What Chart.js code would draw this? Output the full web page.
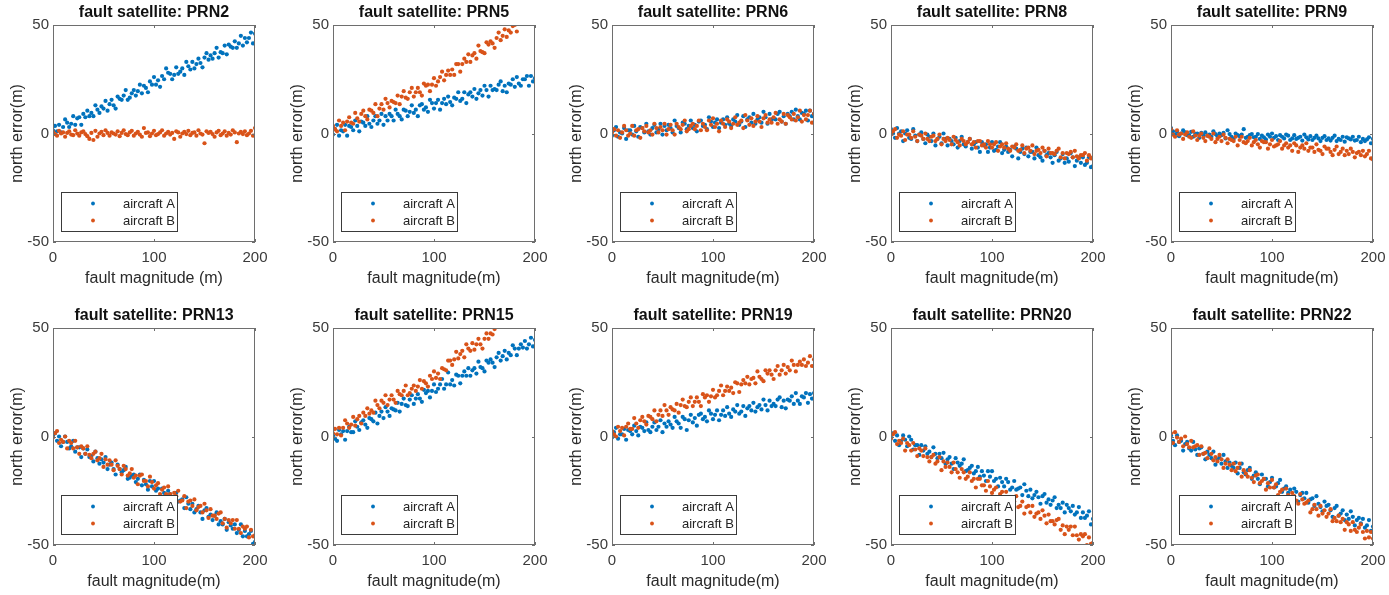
<!DOCTYPE html>
<html>
<head>
<meta charset="utf-8">
<script src="https://cdn.jsdelivr.net/npm/chart.js@4.4.1/dist/chart.umd.min.js"></script>
<style>
  body { margin: 0; background: #fff; width: 1389px; height: 595px; position: relative; overflow: hidden; }
  canvas { position: absolute; }
</style>
</head>
<body>
<script>
// fault magnitude (m), shared x values
const faultMag = [
  0, 2, 4, 6, 8, 10, 12, 14, 16, 18,
  20, 22, 24, 26, 28, 30, 32, 34, 36, 38,
  40, 42, 44, 46, 48, 50, 52, 54, 56, 58,
  60, 62, 64, 66, 68, 70, 72, 74, 76, 78,
  80, 82, 84, 86, 88, 90, 92, 94, 96, 98,
  100, 102, 104, 106, 108, 110, 112, 114, 116, 118,
  120, 122, 124, 126, 128, 130, 132, 134, 136, 138,
  140, 142, 144, 146, 148, 150, 152, 154, 156, 158,
  160, 162, 164, 166, 168, 170, 172, 174, 176, 178,
  180, 182, 184, 186, 188, 190, 192, 194, 196, 198,
  200
];

const xTicks = [0, 100, 200];
const yTicks = [-50, 0, 50];

// north error (m) per fault satellite
const prn2A = [
  1.5, 3.5, 1, 4, 0.5, 3, 6.5, 5, 3, 4.5,
  8, 4, 7, 7.5, 4, 9, 7.5, 10.5, 8, 9.5,
  8, 13, 11, 9.5, 12.5, 11.5, 15, 10.5, 13.5, 15.5,
  13, 11.5, 17, 16, 15.5, 17.5, 20, 15.5, 16.5, 18.5,
  20, 17.5, 19.5, 22.5, 18.5, 22, 21, 19, 24, 22.5,
  26, 22.5, 24.5, 21.5, 26.5, 25, 30, 28, 27.5, 25,
  27, 30.5, 27.5, 28.5, 30, 27, 33, 31, 29.5, 33,
  30, 32, 34.5, 32.5, 30.5, 35, 37, 34, 36, 34.5,
  37, 39.5, 35, 37.5, 37, 40.5, 36.5, 41, 40, 39.5,
  42.5, 39.5, 41.5, 45, 40.5, 44, 42, 44, 46.5, 41.5,
  46
];
const prn2B = [
  0.75, -0.25, -1, 1.25, 0, 0.5, -1.5, 0.25, 1, -0.5,
  -0.75, 1.5, 0, -1, 0.5, 1, -0.25, -1.25, -2.5, 0.25,
  -3, 1.25, -1.5, 0, 0.75, -0.75, 1.5, 0.25, -1, 0.5,
  0, -0.5, 1, -1.25, 0.25, 1.5, -0.25, -0.75, 0.5, 1.25,
  -1, 0, 0.75, -0.5, -1.5, 2.5, 0.25, 0.5, -1.25, 0,
  1.25, -0.75, -0.25, 0.5, 1.5, -1, 0, 0.75, -0.5, 0.25,
  -2.5, 1, 0.5, -1.5, 0, 0.75, -0.25, 1.25, -0.75, 0.25,
  0.5, -1, 1.5, 0, -0.5, -4.5, 1, 0.25, 0.75, -0.25,
  -1.5, 0.5, 1.25, -0.75, 0, 1, -1, 0.25, -0.5, 1.5,
  0.5, -4, 0, 0.75, -0.25, 1, -0.75, 0, 1.25, -1,
  2.5
];
const prn5A = [
  -0.5, 2, 4, -1, 1.5, 1, 4, -1, 3.5, 3,
  1.5, 6, 3.5, 1, 5.5, 5, 3.5, 8, 4.5, 3,
  6, 8, 4.5, 6, 9, 4, 8, 6, 9, 8,
  6, 11, 9, 8, 6.5, 11, 10.5, 8, 10, 13,
  9.5, 11, 8, 13, 13.5, 11, 12, 10, 15.5, 14,
  11.5, 14, 15.5, 11, 14, 16, 13.5, 17, 14.5, 13,
  16.5, 16, 19, 15, 16, 19, 14, 18, 19, 17,
  20.5, 16, 18.5, 20, 17.5, 22, 20, 17, 22, 20,
  20.5, 20, 22.5, 24, 19.5, 22, 19, 23, 22.5, 25,
  21.5, 26, 23, 22, 25, 25, 26.5, 22, 26.5, 24,
  25.5
];
const prn5B = [
  3.5, 2, 1, 6, 3.5, 5, 1.5, 5.5, 7.5, 5,
  4.5, 9.5, 7, 5.5, 9, 10.5, 8, 6.5, 11, 10.5,
  9.5, 13.5, 8, 11.5, 13.5, 11, 16, 14, 12, 15,
  14.5, 14, 17.5, 13.5, 17, 19.5, 16.5, 16, 19, 21,
  17, 19, 21, 19, 17.5, 23, 22, 22.5, 19.5, 22.5,
  25.5, 22, 24, 26, 28.5, 24.5, 27, 29, 27, 29.5,
  27, 32, 32, 28.5, 32, 34.5, 33, 36.5, 33, 36,
  37, 34.5, 40.5, 38, 37.5, 37, 42, 41, 42.5, 41.5,
  39.5, 44, 46.5, 43, 45, 48, 44.5, 47.5, 46.5, 49.5,
  50, 47
];
const prn6A = [
  -1, 1.5, 3, -1.5, 0.5, 0, 2.5, -2.5, 1.5, 1.5,
  -0.5, 3.5, 1, -1.5, 3, 2.5, 0.5, 4.5, 1, -0.5,
  2.5, 4, 0.5, 2, 4.5, -0.5, 3.5, 1.5, 4, 2.5,
  0.5, 6, 3.5, 2.5, 0.5, 5, 4.5, 2, 3.5, 6,
  2.5, 4, 1, 5.5, 6, 3.5, 4, 2, 7.5, 5.5,
  3, 5, 6.5, 2.5, 5, 6.5, 4, 7.5, 4.5, 3.5,
  6.5, 5.5, 8.5, 4, 5.5, 8, 3, 6.5, 7.5, 5,
  9, 4.5, 6.5, 7.5, 5, 10, 7.5, 4.5, 9, 6.5,
  7, 6.5, 9, 10, 5.5, 8, 4.5, 9, 8, 10,
  6.5, 11, 8, 6.5, 9.5, 9, 10.5, 6, 10.5, 8,
  9
];
const prn6B = [
  0.5, 2, -1, 1.5, -2, 0.5, 3.5, 1.5, -1, 0,
  3.5, -1, 1.5, 2, -2, 2.5, 1, 3.5, 0.5, 1.5,
  -0.5, 4.5, 2.5, 0.5, 3, 1.5, 4.5, -0.5, 2, 4,
  1.5, -0.5, 4.5, 3, 2, 4, 6, 1, 2, 3.5,
  4.5, 2, 3.5, 6, 1.5, 4.5, 3, 1.5, 6, 4,
  7, 3, 4.5, 1, 6, 4.5, 3, 6.5, 5.5, 2.5,
  4.5, 7.5, 4, 5, 6, 2.5, 8.5, 6, 4, 7,
  3.5, 5.5, 8, 5.5, 3, 7, 8.5, 5, 6.5, 5,
  7.5, 9.5, 4.5, 6.5, 5.5, 9, 4.5, 8.5, 7.5, 6.5,
  9, 6, 7.5, 10.5, 5.5, 8.5, 6.5, 8.5, 10.5, 5,
  9
];
const prn8A = [
  2, 0, -2, 2.5, 0, 1, -3.5, 0, 1.5, -2,
  -2.5, 2, -1, -3.5, -0.5, 0.5, -2.5, -4.5, -0.5, -1.5,
  -3.5, 0, -5.5, -2.5, -1.5, -4.5, 0, -2.5, -5.5, -2.5,
  -3.5, -5, -2, -6.5, -3.5, -1.5, -5, -6, -4, -2.5,
  -7, -5, -4, -6.5, -8.5, -4, -5.5, -5, -8.5, -6.5,
  -4, -8, -7.5, -6, -4, -9, -7.5, -6, -8.5, -7.5,
  -10.5, -6, -7, -11.5, -8.5, -7, -9.5, -6.5, -10.5, -8.5,
  -8.5, -11.5, -6.5, -10, -11, -12.5, -8, -10, -9, -11,
  -13.5, -10, -8.5, -12.5, -11.5, -9.5, -13.5, -11.5, -13, -9,
  -11, -15, -12.5, -11, -13.5, -11, -14.5, -13.5, -11, -15.5,
  -15
];
const prn8B = [
  -0.5, 1, 2, -2, -0.5, -1, 1, -3, -0.5, -0.5,
  -2, 1, -1.5, -3.5, -0.5, -1, -2.5, 0, -2.5, -3.5,
  -1.5, -1, -3.5, -2.5, -0.5, -5, -2.5, -3.5, -2, -3,
  -5, -1.5, -3, -4, -5.5, -2.5, -3.5, -5, -4, -2.5,
  -5, -4, -6.5, -3.5, -3.5, -5.5, -5, -6.5, -3.5, -5,
  -6.5, -5, -4, -8, -6, -5, -6.5, -4.5, -7, -8,
  -6, -6.5, -5, -8, -7.5, -5.5, -9, -7, -6.5, -8,
  -5.5, -9.5, -8, -7.5, -9, -6.5, -8, -10.5, -7, -9,
  -9, -9.5, -8, -7, -11, -9, -11.5, -9, -9.5, -8.5,
  -11, -8, -10.5, -11.5, -10, -10, -9, -12.5, -10, -11.5,
  -11
];
const prn9A = [
  2.5, 1, -0.5, 0.75, -1.25, 0, 1.5, 0.5, -0.75, -0.75,
  0.75, -1.5, -0.25, 0, -2, 0.25, -0.75, 0.5, -1, -0.5,
  -1.5, 1, -0.25, -1.25, 0, -0.75, 0.25, -2.25, 1.5, -0.25,
  -1.5, -2.5, 0, -0.75, -1.25, -0.5, 2, -2, -1.5, -0.75,
  -0.25, -1.75, -1.5, -0.25, -2.5, -1, -1.75, -2.75, -0.5, -1.5,
  0, -2, -1.25, -3, -0.75, -1.5, -2.25, -0.5, -1, -3,
  -2.25, -0.75, -2.5, -2, -1.5, -3.25, -0.5, -1.75, -2.75, -1.25,
  -3, -2, -1, -2.25, -3.5, -2, -1.25, -3, -2.25, -3.25,
  -2, -1, -3.5, -2.5, -3, -1.5, -3.75, -1.75, -2.25, -2.75,
  -1.5, -3.25, -3, -1.5, -4, -2.5, -3.5, -2.75, -1.75, -4.5,
  -2.5
];
const prn9B = [
  2, -0.5, -1.5, 1.5, -0.5, 0, -2.5, -0.5, 0.5, -1.5,
  -2, 1, -1, -3, -1, 0, -2, -3.5, -1, -1.5,
  -2.5, 0, -4, -2.5, -1.5, -3.5, -0.5, -2, -4.5, -2.5,
  -3, -3.5, -1.5, -5.5, -3, -1.5, -4, -4.5, -3.5, -2,
  -5.5, -4, -3, -5, -6.5, -3.5, -4, -4, -7, -5,
  -3, -6, -5.5, -5, -3.5, -7, -5.5, -4.5, -6.5, -5.5,
  -8, -4.5, -5.5, -8.5, -6.5, -5.5, -7, -4.5, -8, -6.5,
  -6.5, -8.5, -5, -7.5, -8, -9.5, -6, -7, -7, -8.5,
  -10, -7.5, -6, -9.5, -8.5, -7, -10, -8, -9.5, -7,
  -8.5, -11, -9, -8.5, -10, -8, -10.5, -9.5, -8, -11.5,
  -12
];
const prn13A = [
  0.5, 1.5, -2, 0, -4.5, -2.5, 0, -2.5, -5.5, -4.5,
  -2, -7, -5, -5, -9.5, -5.5, -8, -6, -9.5, -9,
  -11.5, -7, -10, -12.5, -10.5, -12, -9.5, -15, -13, -12,
  -15, -17.5, -13, -15, -16.5, -15.5, -14, -19.5, -19, -18,
  -17.5, -21, -19.5, -17.5, -22.5, -20, -22, -24.5, -20.5, -23,
  -20.5, -25, -24, -28, -24, -26, -28, -25, -26.5, -29.5,
  -28.5, -26, -30, -29.5, -29, -33, -28, -31, -33.5, -31,
  -35, -33.5, -32, -35, -38, -34, -33, -37, -36, -38.5,
  -36.5, -35, -40.5, -39, -40.5, -38, -43, -39.5, -41, -42.5,
  -40.5, -44.5, -43, -40.5, -46, -43.5, -46, -45, -43.5, -49.5,
  -48.5
];
const prn13B = [
  -0.5, 1.5, 2.5, -3, -1.5, -2.5, 0, -5.5, -2, -3,
  -5.5, -2, -5, -8, -4.5, -5.5, -8, -4.5, -8.5, -10,
  -8, -7, -11, -10, -8, -14, -10.5, -13, -11, -13,
  -15.5, -11, -13.5, -15, -17.5, -13.5, -15, -18, -17, -15,
  -19, -18, -22, -18, -17.5, -20.5, -20.5, -23, -18.5, -21,
  -24, -22.5, -21.5, -26.5, -24.5, -23.5, -26.5, -23, -26.5, -28.5,
  -26, -27.5, -25, -30, -29.5, -27.5, -33, -30, -29.5, -32,
  -29, -34, -32.5, -32, -35, -31, -34, -37.5, -33.5, -36.5,
  -36.5, -38, -35.5, -35, -40, -38, -42, -38.5, -40, -38.5,
  -42.5, -38.5, -42.5, -44.5, -41.5, -42.5, -41.5, -46.5, -43, -46,
  -45.5
];
const prn15A = [
  0.5, -1, -2, 3, 1, 2.5, -1.5, 2.5, 4.5, 2,
  2, 7, 4.5, 3, 6.5, 7.5, 5.5, 4, 8.5, 8,
  7, 11, 6, 9.5, 11.5, 8.5, 13.5, 11.5, 9.5, 13,
  12.5, 12, 15.5, 11.5, 15, 17.5, 14.5, 14, 17, 19,
  15, 17.5, 19.5, 17.5, 16, 21.5, 20, 21, 18, 21,
  24, 20.5, 22, 24, 26.5, 22, 24, 29.5, 24, 26,
  23.5, 28.5, 28, 24.5, 28, 30, 28, 31.5, 28, 30.5,
  31.5, 29, 34.5, 32, 31.5, 30, 35, 34, 35.5, 34,
  32, 36.5, 38.5, 35, 37, 39.5, 35.5, 38.5, 37.5, 42,
  40.5, 37.5, 40.5, 42.5, 41, 44, 40.5, 42.5, 45.5, 41.5,
  44.5
];
const prn15B = [
  1.5, 3.5, 1, 4, 0.5, 4, 7.5, 6, 4, 5.5,
  9, 5, 8, 9.5, 6, 11, 9.5, 13, 10.5, 12,
  11, 16.5, 14.5, 13, 16.5, 15.5, 19, 14.5, 17, 19,
  17, 15.5, 21, 19.5, 19, 21, 23.5, 19, 20, 22,
  23.5, 21, 23, 26, 22, 25.5, 24.5, 23, 28, 26.5,
  30, 27, 29, 26.5, 31.5, 31, 30.5, 35, 35, 33,
  35.5, 39, 36, 38, 39.5, 36.5, 42.5, 40.5, 39.5, 43,
  40, 42.5, 45, 42.5, 40.5, 45, 47.5, 45, 47.5, 47,
  49.5
];
const prn19A = [
  -0.5, 2, 4, -1, 1, 1, 3.5, -1.5, 3, 2.5,
  1, 5, 2.5, 0.5, 4.5, 4, 2.5, 6.5, 3, 2,
  4.5, 6.5, 3, 4.5, 7.5, 2, 6, 4.5, 7, 5.5,
  4, 9, 7, 6, 4, 9, 8, 3, 7.5, 10,
  6.5, 8.5, 5, 10, 10.5, 8, 9, 7, 12, 10.5,
  8, 10, 12, 7.5, 10, 12, 9.5, 13.5, 10.5, 9,
  12.5, 11.5, 14.5, 10.5, 11.5, 14, 9.5, 13, 14, 12,
  15.5, 11.5, 13.5, 14.5, 12.5, 17, 14.5, 12, 16.5, 14,
  15, 14, 17, 18, 13.5, 16.5, 13, 17, 16.5, 18.5,
  15, 20, 16.5, 15, 18.5, 18, 20, 15.5, 19.5, 17.5,
  20
];
const prn19B = [
  2.5, 1, 0, 4.5, 2.5, 4, 0.5, 4.5, 6, 3.5,
  3.5, 8.5, 6, 4, 7.5, 9, 7, 5.5, 9.5, 9,
  8, 12, 7, 10, 12, 9.5, 14.5, 12, 10, 13.5,
  12.5, 12, 15, 11, 14.5, 17, 14, 13.5, 16, 18,
  14, 16, 18, 16, 14, 19.5, 18, 19, 16, 18.5,
  21.5, 18, 19, 21, 23.5, 19, 21, 23, 21, 22.5,
  20, 25, 24.5, 20.5, 24, 26, 24.5, 27.5, 24, 26.5,
  27, 24.5, 30, 27.5, 26.5, 25.5, 30.5, 29, 30.5, 28.5,
  26.5, 30.5, 32.5, 28.5, 30.5, 33, 29, 32, 30.5, 35,
  33, 30, 33, 34.5, 33, 35.5, 32.5, 34, 37, 32.5,
  35.5
];
const prn20A = [
  0.5, 1.5, -2, 0.5, -4, -2, 0.5, -1.5, -4.5, 0,
  -1.5, -6, -4, -4, -8.5, -4, -6.5, -4.5, -8, -7,
  -9.5, -5, -8, -10, -8, -10, -7.5, -12.5, -10.5, -9.5,
  -12.5, -15, -10, -12, -13.5, -12.5, -10.5, -16, -15.5, -14.5,
  -13.5, -17, -16, -14, -18.5, -16, -18, -20.5, -16, -18.5,
  -16, -20.5, -19.5, -23, -19, -21, -23, -19.5, -21, -24.5,
  -23.5, -20.5, -24.5, -24, -23.5, -27, -22, -25, -27.5, -24.5,
  -28.5, -27, -25.5, -28, -31, -27.5, -26.5, -30.5, -29, -31.5,
  -29.5, -28, -33, -31.5, -33, -30.5, -35, -31.5, -33, -34.5,
  -32, -36, -35, -32.5, -37.5, -35, -37.5, -36.5, -34.5, -40.5,
  -38
];
const prn20B = [
  -1, 1, 2, -3.5, -2, -3, -1, -6.5, -3, -4,
  -6.5, -3, -6, -9, -5.5, -6.5, -9, -5.5, -9.5, -11.5,
  -9.5, -8.5, -12.5, -11.5, -9.5, -15.5, -11.5, -14, -12, -14,
  -16.5, -12, -15, -16.5, -19, -15, -16.5, -19.5, -18.5, -16.5,
  -20.5, -19.5, -23.5, -19.5, -19.5, -22.5, -22.5, -25, -20.5, -23,
  -26, -24.5, -23.5, -28.5, -26.5, -25.5, -28.5, -25.5, -29, -31,
  -28.5, -30, -27.5, -32.5, -32, -30, -35.5, -32.5, -32, -35,
  -32, -37, -35.5, -35, -38, -34, -36.5, -40, -36, -39,
  -39, -40.5, -38.5, -38, -43, -41, -45, -41.5, -43, -41.5,
  -45.5, -41.5, -45.5, -47.5, -45, -46, -45, -50, -46.5, -49.5,
  -49
];
const prn22A = [
  0.5, -2, -4, 0.5, -2.5, -2, -6.5, -3.5, -2.5, -5.5,
  -6.5, -2.5, -6, -8.5, -5.5, -5, -8, -10.5, -7, -8.5,
  -10, -7, -13, -10.5, -9.5, -12.5, -8.5, -11.5, -14.5, -12,
  -13.5, -14.5, -12, -17, -14.5, -12.5, -16.5, -17.5, -15.5, -14.5,
  -19.5, -18, -16.5, -19.5, -22, -17.5, -19.5, -19.5, -23, -21,
  -19, -23.5, -23, -21.5, -20, -25.5, -24, -23, -26, -24.5,
  -28, -24, -25.5, -30, -27, -26, -28.5, -26, -30.5, -29,
  -28.5, -32, -27.5, -31, -32.5, -34.5, -30, -32, -31.5, -34,
  -37, -33, -32, -36.5, -35.5, -34, -38.5, -36, -38, -34.5,
  -37, -41, -38.5, -37.5, -40, -38, -42, -41, -38.5, -43.5,
  -41.5
];
const prn22B = [
  1.5, -3, 2, -0.5, -2.5, -1, -4.5, 0, -3.5, -5,
  -2, -5, -4.5, -4, -8.5, -4.5, -8, -7.5, -10, -5.5,
  -8, -11, -9.5, -11.5, -8.5, -10.5, -14.5, -12.5, -10.5, -13,
  -15.5, -12.5, -16, -14.5, -12.5, -18.5, -15.5, -17, -18.5, -15.5,
  -19, -21, -18, -17.5, -21.5, -20.5, -19.5, -24.5, -21.5, -23.5,
  -20, -23.5, -22, -27, -25.5, -24.5, -28, -24, -27, -28.5,
  -26, -27.5, -29.5, -31, -26.5, -29, -31, -30.5, -29.5, -35,
  -33.5, -31.5, -33.5, -36.5, -32, -35.5, -34, -37, -35.5, -33.5,
  -39, -37.5, -39, -36.5, -39.5, -38, -43, -39.5, -40.5, -43.5,
  -39.5, -43, -44, -42, -40.5, -44, -47, -43.5, -46.5, -44,
  -47
];

const satellites = ['PRN2', 'PRN5', 'PRN6', 'PRN8', 'PRN9', 'PRN13', 'PRN15', 'PRN19', 'PRN20', 'PRN22'];
const aircraftA = [prn2A, prn5A, prn6A, prn8A, prn9A, prn13A, prn15A, prn19A, prn20A, prn22A];
const aircraftB = [prn2B, prn5B, prn6B, prn8B, prn9B, prn13B, prn15B, prn19B, prn20B, prn22B];
const xLabels = ['fault magnitude (m)', 'fault magnitude(m)', 'fault magnitude(m)', 'fault magnitude(m)', 'fault magnitude(m)',
  'fault magnitude(m)', 'fault magnitude(m)', 'fault magnitude(m)', 'fault magnitude(m)', 'fault magnitude(m)'];

// MATLAB default colours
const BLUE = '#0072BD';
const ORANGE = '#D95319';
const FONT = "'Liberation Sans', Arial, Helvetica, sans-serif";

// page layout: axes box for each subplot
const boxLefts = [53, 333, 612, 891, 1171];
const boxTops = [25, 328];
const boxW = 202, boxH = 217;
const padL = 53, padT = 25, padR = 20, padB = 50;

const toPoints = ys => ys.map((y, i) => ({ x: faultMag[i], y }));

// axes box, inward ticks, title and legend, drawn like a MATLAB subplot
const matlabAxes = {
  id: 'matlabAxes',
  afterDraw(chart, args, opts) {
    const { ctx, chartArea: a, scales: { x, y } } = chart;
    ctx.save();
    ctx.strokeStyle = '#6e6e6e';
    ctx.lineWidth = 1;
    ctx.strokeRect(Math.round(a.left) + 0.5, Math.round(a.top) + 0.5,
      Math.round(a.right - a.left) - 1, Math.round(a.bottom - a.top) - 1);
    const tl = 3;
    ctx.beginPath();
    xTicks.forEach(v => {
      const px = Math.round(x.getPixelForValue(v)) + 0.5;
      ctx.moveTo(px, a.bottom); ctx.lineTo(px, a.bottom - tl);
      ctx.moveTo(px, a.top); ctx.lineTo(px, a.top + tl);
    });
    yTicks.forEach(v => {
      const py = Math.round(y.getPixelForValue(v)) + 0.5;
      ctx.moveTo(a.left, py); ctx.lineTo(a.left + tl, py);
      ctx.moveTo(a.right, py); ctx.lineTo(a.right - tl, py);
    });
    ctx.stroke();

    // title
    ctx.fillStyle = '#111';
    ctx.font = `bold 16px ${FONT}`;
    ctx.textAlign = 'center';
    ctx.textBaseline = 'middle';
    ctx.fillText(opts.text, (a.left + a.right) / 2, a.top - 12);

    // legend, lower left inside the axes
    const lx = a.left + 8, ly = a.bottom - 50, lw = 116, lh = 39;
    ctx.fillStyle = '#fff';
    ctx.fillRect(lx, ly, lw, lh);
    ctx.strokeStyle = '#3a3a3a';
    ctx.strokeRect(Math.round(lx) + 0.5, Math.round(ly) + 0.5, lw, lh);
    ctx.font = `13px ${FONT}`;
    ctx.textAlign = 'left';
    const rows = [a.bottom - 38.5, a.bottom - 21.5];
    chart.data.datasets.forEach((ds, i) => {
      ctx.fillStyle = ds.backgroundColor;
      ctx.beginPath();
      ctx.arc(a.left + 40, rows[i], 1.9, 0, Math.PI * 2);
      ctx.fill();
      ctx.fillStyle = '#222';
      ctx.fillText(ds.label, a.left + 70, rows[i] + 0.5);
    });
    ctx.restore();
  }
};

satellites.forEach((prn, k) => {
  const col = k % 5, row = Math.floor(k / 5);
  const canvas = document.createElement('canvas');
  canvas.width = padL + boxW + padR;
  canvas.height = padT + boxH + padB;
  canvas.style.left = (boxLefts[col] - padL) + 'px';
  canvas.style.top = (boxTops[row] - padT) + 'px';
  document.body.appendChild(canvas);

  new Chart(canvas, {
    type: 'scatter',
    data: {
      datasets: [
        { label: 'aircraft A', data: toPoints(aircraftA[k]), backgroundColor: BLUE, borderWidth: 0, pointRadius: 2.1, order: 1, clip: 0 },
        { label: 'aircraft B', data: toPoints(aircraftB[k]), backgroundColor: ORANGE, borderWidth: 0, pointRadius: 2.1, order: 0, clip: 0 }
      ]
    },
    options: {
      responsive: false,
      animation: false,
      events: [],
      layout: { padding: { top: padT, right: padR, left: 0, bottom: 0 } },
      plugins: {
        legend: { display: false },
        tooltip: { enabled: false },
        title: { display: false },
        matlabAxes: { text: 'fault satellite: ' + prn }
      },
      scales: {
        x: {
          type: 'linear', min: 0, max: 200,
          afterBuildTicks: s => { s.ticks = xTicks.map(v => ({ value: v })); },
          ticks: { color: '#3a3a3a', font: { family: FONT, size: 15 }, padding: 7, maxRotation: 0, autoSkip: false },
          grid: { display: false, drawTicks: false },
          border: { display: false },
          title: { display: true, text: xLabels[k], color: '#2a2a2a', font: { family: FONT, size: 16 }, padding: { top: 0, bottom: 4 } },
          afterFit: s => { s.height = padB; }
        },
        y: {
          min: -50, max: 50,
          afterBuildTicks: s => { s.ticks = yTicks.map(v => ({ value: v })); },
          ticks: { color: '#3a3a3a', font: { family: FONT, size: 15 }, padding: 4, autoSkip: false },
          grid: { display: false, drawTicks: false },
          border: { display: false },
          title: { display: true, text: 'north error(m)', color: '#2a2a2a', font: { family: FONT, size: 16 }, padding: { top: 8, bottom: 0 } },
          afterFit: s => { s.width = padL; }
        }
      }
    },
    plugins: [matlabAxes]
  });
});
</script>
</body>
</html>
